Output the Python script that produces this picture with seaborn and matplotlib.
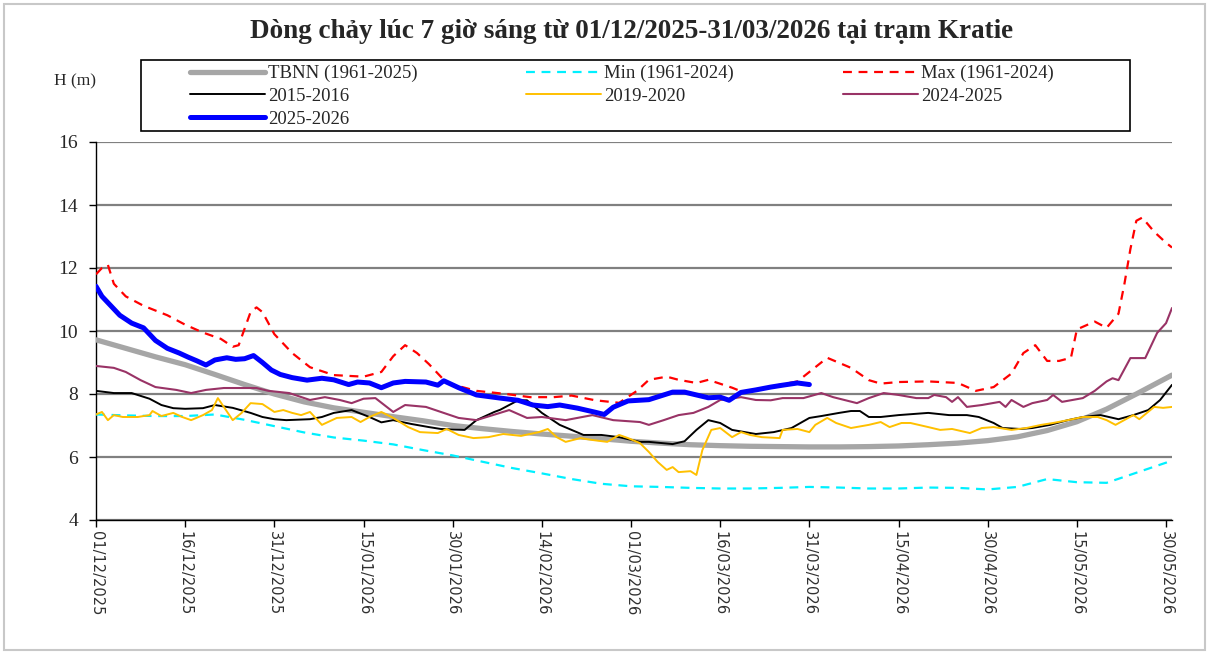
import matplotlib
matplotlib.use("Agg")
import numpy as np
import pandas as pd
import seaborn as sns
import matplotlib.pyplot as plt
from matplotlib.lines import Line2D
from matplotlib.patches import Rectangle

# x = days counted from 01/12/2025
tick_labels = ["01/12/2025", "16/12/2025", "31/12/2025", "15/01/2026", "30/01/2026",
               "14/02/2026", "01/03/2026", "16/03/2026", "31/03/2026", "15/04/2026",
               "30/04/2026", "15/05/2026", "30/05/2026"]

tbnn_day = [0, 5, 10, 15, 20, 25, 30, 35, 40, 45, 50, 55, 60, 65, 70, 75, 80, 85, 90,
            95, 100, 105, 110, 115, 120, 125, 130, 135, 140, 145, 150, 155, 160, 165,
            170, 175, 180, 181]
tbnn_h = [9.72, 9.45, 9.18, 8.93, 8.62, 8.3, 8.0, 7.75, 7.56, 7.42, 7.28, 7.15, 7.0,
          6.9, 6.81, 6.73, 6.66, 6.58, 6.5, 6.44, 6.39, 6.36, 6.34, 6.33, 6.32, 6.32,
          6.33, 6.35, 6.39, 6.44, 6.52, 6.64, 6.84, 7.12, 7.52, 8.0, 8.5, 8.6]

min_day = tbnn_day
min_h = [7.35, 7.32, 7.3, 7.3, 7.35, 7.18, 6.98, 6.78, 6.62, 6.52, 6.4, 6.22, 6.05,
         5.85, 5.65, 5.48, 5.3, 5.15, 5.07, 5.05, 5.02, 5.0, 5.0, 5.02, 5.05, 5.03,
         5.0, 5.0, 5.03, 5.02, 4.97, 5.05, 5.3, 5.2, 5.18, 5.5, 5.82, 5.9]

max_day = [0, 1, 2, 3, 5, 8, 12, 15, 18, 21, 23, 24, 26, 27, 28, 30, 33, 36, 40, 45,
           48, 50, 52, 54, 56, 59, 64, 69, 73, 77, 80, 84, 88, 91, 93, 96, 98, 101,
           103, 107, 109, 113, 118, 121, 123, 127, 130, 132, 135, 140, 145, 148, 151,
           154, 156, 158, 160, 162, 164, 165, 168, 170, 172, 173, 174, 175, 176, 178,
           180, 181]
max_h = [11.8, 12.0, 12.1, 11.5, 11.1, 10.8, 10.5, 10.2, 9.95, 9.75, 9.5, 9.55, 10.6,
         10.75, 10.6, 9.9, 9.3, 8.85, 8.6, 8.55, 8.7, 9.2, 9.55, 9.3, 8.95, 8.35, 8.1,
         8.0, 7.9, 7.9, 7.95, 7.8, 7.72, 8.1, 8.45, 8.55, 8.45, 8.35, 8.45, 8.2, 8.05,
         8.22, 8.4, 8.85, 9.15, 8.83, 8.44, 8.33, 8.38, 8.4, 8.35, 8.1, 8.22, 8.65, 9.3,
         9.55, 9.05, 9.05, 9.15, 10.05, 10.3, 10.1, 10.55, 11.5, 12.6, 13.5, 13.6,
         13.15, 12.8, 12.65]

y1516_day = [0, 3, 6, 9, 11, 13, 15, 18, 20, 23, 26, 28, 30, 32, 36, 38, 40, 43, 46,
             48, 50, 53, 56, 58, 62, 64, 67, 68, 71, 72.5, 75, 78, 82, 85, 88, 91.5,
             93, 97, 99, 101, 103, 105, 107, 111, 114, 117, 120, 122, 125, 127, 128.5,
             130, 132, 135, 140, 143.5, 146.5, 148.5, 151, 152.5, 155.5, 157.5, 160.5,
             163.5, 166, 169, 172, 174.5, 177, 179, 181]
y1516_h = [8.1, 8.03, 8.03, 7.85, 7.65, 7.55, 7.53, 7.55, 7.65, 7.56, 7.4, 7.27, 7.2,
           7.17, 7.2, 7.27, 7.4, 7.49, 7.27, 7.1, 7.17, 7.05, 6.95, 6.89, 6.86, 7.17,
           7.43, 7.5, 7.8, 7.8, 7.4, 7.02, 6.7, 6.7, 6.63, 6.48, 6.48, 6.41, 6.5, 6.86,
           7.17, 7.08, 6.86, 6.73, 6.79, 6.92, 7.24, 7.3, 7.4, 7.46, 7.46, 7.27, 7.27,
           7.33, 7.4, 7.33, 7.33, 7.27, 7.08, 6.92, 6.89, 6.92, 7.02, 7.17, 7.27, 7.33,
           7.2, 7.33, 7.49, 7.81, 8.29]

y1920_day = [0, 1, 2, 3, 4.5, 7, 9, 9.5, 11, 13, 14.5, 16, 18, 19.5, 20.5, 21.5,
             23, 24.5, 26, 28, 30, 31.5, 33, 34.5, 36, 38, 40.5, 43, 44.5, 46, 48,
             50, 52.5, 54.5, 57.5, 59, 61, 63.5, 66, 68.5, 71.5, 74.5, 76, 77.5, 79,
             81.5, 83.5, 86, 88, 89.5, 91.5, 93, 94.5, 96, 97, 98, 100, 101, 102, 103.5,
             105, 107, 108.5, 110, 112, 115, 115.5, 118, 120, 121, 123, 124.5, 127,
             130, 132, 133.5, 135.5, 137, 140, 142, 144, 147, 149, 151, 154, 156.5,
             159, 161, 163.5, 166, 168.5, 170, 171.5, 174.5, 175.5, 178, 179.5, 181]
y1920_h = [7.35, 7.43, 7.17, 7.33, 7.27, 7.27, 7.33, 7.46, 7.3, 7.4, 7.27, 7.17, 7.33,
           7.49, 7.87, 7.59, 7.17, 7.4, 7.71, 7.68, 7.43, 7.49, 7.4, 7.33, 7.43, 7.02,
           7.24, 7.27, 7.11, 7.27, 7.43, 7.24, 6.95, 6.79, 6.76, 6.89, 6.7, 6.6, 6.63,
           6.73, 6.67, 6.79, 6.89, 6.63, 6.48, 6.6, 6.54, 6.48, 6.7, 6.6, 6.44, 6.16,
           5.84, 5.59, 5.68, 5.52, 5.55, 5.43, 6.22, 6.86, 6.92, 6.63, 6.79, 6.7, 6.63,
           6.6, 6.86, 6.89, 6.79, 7.02, 7.24, 7.08, 6.92, 7.02, 7.11, 6.95, 7.08, 7.08,
           6.95, 6.86, 6.89, 6.76, 6.92, 6.95, 6.86, 6.92, 7.02, 7.08, 7.17, 7.27, 7.27,
           7.17, 7.02, 7.33, 7.2, 7.59, 7.56, 7.59]

y2425_day = [0, 3, 5, 7.5, 10, 13.5, 16, 18.5, 21.5, 24, 27, 29, 32.5, 36, 38.5, 41,
             43, 45, 47, 50, 52, 55.5, 61, 64, 69.5, 72.5, 75, 79, 83.5, 87, 91.5, 93,
             95.5, 98, 100.5, 103, 105, 108.5, 111, 113.5, 115.5, 119, 122, 124, 128,
             130, 132.5, 135, 138, 140, 141, 143, 144, 145, 146.5, 149, 152, 153, 154,
             156, 157.5, 160, 161, 162.5, 166, 168, 170, 171, 172, 174, 176.5, 178.5,
             180, 181]
y2425_h = [8.89, 8.83, 8.7, 8.44, 8.22, 8.13, 8.03, 8.13, 8.19, 8.19, 8.19, 8.1, 8.03,
           7.81, 7.9, 7.81, 7.71, 7.85, 7.87, 7.43, 7.65, 7.59, 7.24, 7.17, 7.49, 7.24,
           7.27, 7.17, 7.33, 7.17, 7.11, 7.02, 7.17, 7.33, 7.4, 7.59, 7.81, 7.9, 7.81,
           7.8, 7.87, 7.87, 8.03, 7.9, 7.71, 7.87, 8.03, 7.97, 7.87, 7.87, 7.97, 7.9,
           7.75, 7.9, 7.59, 7.65, 7.75, 7.59, 7.81, 7.59, 7.71, 7.81, 7.97, 7.75, 7.87,
           8.1, 8.4, 8.5, 8.44, 9.14, 9.14, 9.94, 10.25, 10.73]

y2526_day = [0, 1, 2, 4, 6, 8, 10, 12, 14, 15.5, 17, 18.5, 20, 22, 23.5, 25, 26.5, 28,
             29.5, 31, 33, 35.5, 38, 40, 42.5, 44, 46, 48, 50, 52, 55.5, 57.5, 58.5, 61,
             64, 68, 71, 73.5, 76, 78, 81, 84, 85.5, 87, 89.5, 93, 95.5, 97, 99, 101,
             103, 105, 106.5, 108.5, 111, 113.5, 115.5, 118, 120]
y2526_h = [11.42, 11.1, 10.9, 10.5, 10.25, 10.1, 9.7, 9.45, 9.3, 9.17, 9.05, 8.92, 9.08,
           9.15, 9.1, 9.12, 9.22, 9.0, 8.76, 8.62, 8.52, 8.44, 8.5, 8.45, 8.3, 8.38,
           8.35, 8.2, 8.35, 8.4, 8.38, 8.28, 8.42, 8.2, 7.97, 7.87, 7.8, 7.65, 7.6,
           7.65, 7.55, 7.42, 7.35, 7.58, 7.78, 7.82, 7.97, 8.06, 8.06, 7.97, 7.88, 7.9,
           7.8, 8.05, 8.13, 8.22, 8.28, 8.35, 8.3]

sns.set_theme(style="white")
plt.rcParams["font.family"] = ["Liberation Serif", "DejaVu Serif"]

W, H = 1209, 653
fig = plt.figure(figsize=(W / 100, H / 100), dpi=100)
ax = fig.add_axes([96 / W, 1 - 520 / H, (1172 - 96) / W, (520 - 142) / H])

series = [
    ("TBNN (1961-2025)", tbnn_day, tbnn_h, "#A6A6A6", 3.8, "-"),
    ("Min (1961-2024)", min_day, min_h, "#00F0FF", 1.6, (0, (4, 3))),
    ("Max (1961-2024)", max_day, max_h, "#FF0000", 1.6, (0, (4, 3))),
    ("2015-2016", y1516_day, y1516_h, "#000000", 1.4, "-"),
    ("2019-2020", y1920_day, y1920_h, "#FFC000", 1.4, "-"),
    ("2024-2025", y2425_day, y2425_h, "#993366", 1.5, "-"),
    ("2025-2026", y2526_day, y2526_h, "#0000FF", 3.6, "-"),
]

handles = {}
for i, (name, d, h, c, lw, ls) in enumerate(series):
    df = pd.DataFrame({"day": d, "h": h})
    sns.lineplot(data=df, x="day", y="h", ax=ax, color=c, linewidth=lw,
                 linestyle=ls, sort=False, estimator=None, zorder=3 + i)
    handles[name] = Line2D([], [], color=c, lw=lw, linestyle=ls)

ax.set_xlim(0, 181)
ax.set_ylim(4, 16)
tick_pos = [(pd.to_datetime(t, dayfirst=True) - pd.Timestamp("2025-12-01")).days
            for t in tick_labels]
ax.set_xticks(tick_pos)
ax.set_xticklabels(tick_labels, rotation=270, fontsize=10.5, color="#303030",
                   family="DejaVu Sans")
ax.set_yticks(np.arange(4, 17, 2))
ax.set_yticklabels([str(v) for v in range(4, 17, 2)], fontsize=14)
ax.set_xlabel("")
ax.set_ylabel("")
ax.yaxis.grid(True, color="#808080", linewidth=1.6)
ax.xaxis.grid(False)
for s in ["top", "right"]:
    ax.spines[s].set_visible(False)
for s in ["left", "bottom"]:
    ax.spines[s].set_color("#000000")
    ax.spines[s].set_linewidth(1.0)
ax.tick_params(axis="both", direction="out", length=5, width=1, color="#000000",
               pad=3, bottom=True, left=True)
ax.tick_params(axis="y", pad=8)

fig.text(632 / W, 1 - 32 / H,
         "Dòng chảy lúc 7 giờ sáng từ 01/12/2025-31/03/2026 tại trạm Kratie",
         ha="center", va="center", fontsize=19.5, fontweight="bold")
fig.text(75 / W, 1 - 81 / H, "H (m)", ha="center", va="center", fontsize=12.5)

# legend box
fig.patches.append(Rectangle((141 / W, 1 - 131 / H), (1130 - 141) / W, 71 / H,
                             transform=fig.transFigure, fill=False,
                             edgecolor="#000000", lw=1.2))
order = ["TBNN (1961-2025)", "2015-2016", "2025-2026", "Min (1961-2024)",
         "2019-2020", "Max (1961-2024)", "2024-2025"]
fig.legend([handles[k] for k in order], order, loc="upper left",
           bbox_to_anchor=(188 / W, 1 - 63 / H), ncol=3, frameon=False,
           fontsize=13.5, handlelength=4.0, handletextpad=0.16, columnspacing=5.8,
           labelspacing=0.3, borderpad=0.1, borderaxespad=0)

# outer frame
fig.patches.append(Rectangle((0.003, 0.004), 0.994, 0.99, transform=fig.transFigure,
                             fill=False, edgecolor="#C8C8C8", lw=1.5))

fig.savefig("out.png", dpi=100)
